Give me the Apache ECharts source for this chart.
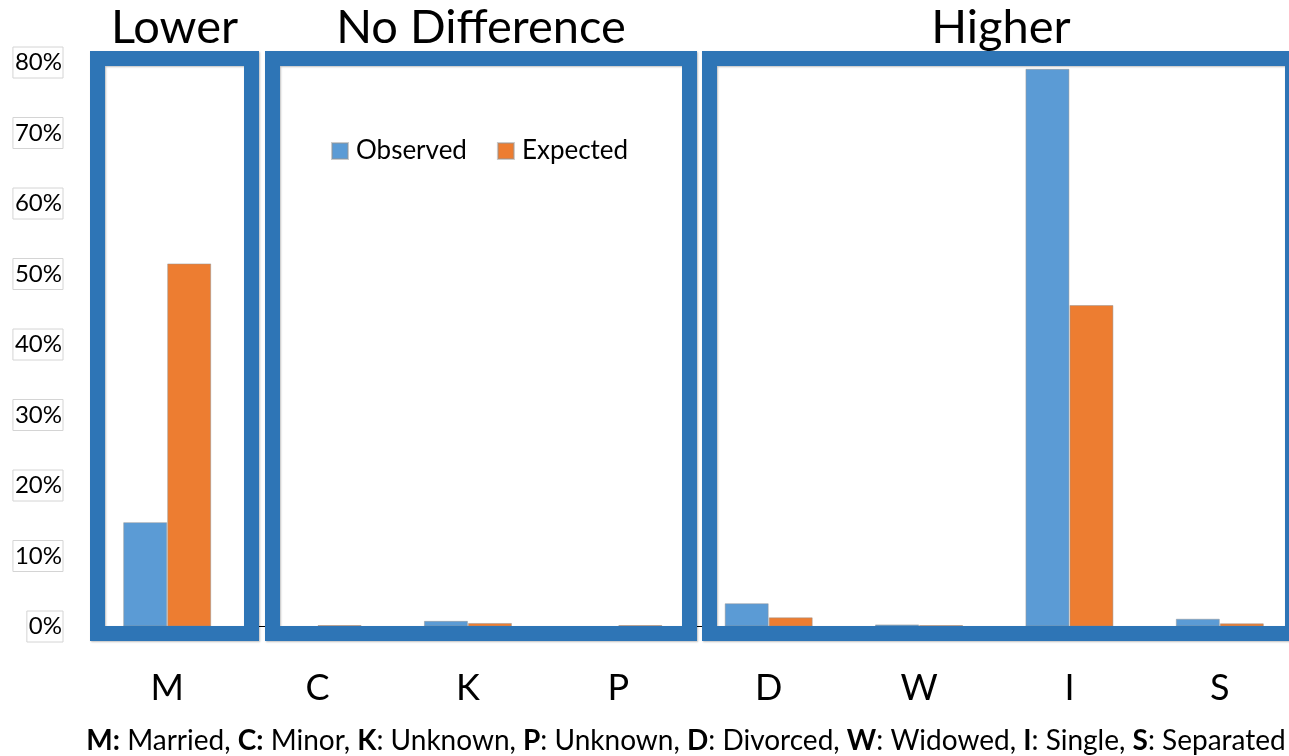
<!DOCTYPE html>
<html>
<head>
<meta charset="utf-8">
<script src="https://cdn.jsdelivr.net/npm/echarts@6/dist/echarts.min.js"></script>
<style>
  html, body { margin: 0; padding: 0; background: #fff; }
  #chart { width: 1289px; height: 756px; }
</style>
</head>
<body>
<div id="chart"></div>
<script>
// Marital status codes along the x axis
const categories = ['M', 'C', 'K', 'P', 'D', 'W', 'I', 'S'];
// Share of cases per status (fractions of 1)
const observed = [0.148, 0, 0.008, 0, 0.033, 0.003, 0.791, 0.011];
const expected = [0.515, 0.002, 0.005, 0.002, 0.013, 0.002, 0.456, 0.0045];
// Y axis tick labels
const yTicks = ['0%', '10%', '20%', '30%', '40%', '50%', '60%', '70%', '80%'];
// Group headings over the framed panels
const groupTitles = ['Lower', 'No Difference', 'Higher'];

const FONT = 'Lato, "Open Sans", sans-serif';
const FRAME = '#2e75b6';

const chart = echarts.init(document.getElementById('chart'), null, { renderer: 'canvas' });

// Frame rectangles (stroke centred on the path, 15px wide)
const frames = [
  { x: 97.5, y: 58.5, width: 154, height: 575 },
  { x: 272.5, y: 58.5, width: 417, height: 575 },
  { x: 709.5, y: 58.5, width: 583, height: 575 }
];

const graphics = [];
frames.forEach((f, i) => {
  graphics.push({
    type: 'rect',
    z: 50,
    silent: true,
    shape: { x: f.x, y: f.y, width: f.width, height: f.height },
    style: {
      fill: null,
      stroke: FRAME,
      lineWidth: 15,
      shadowColor: 'rgba(0,0,0,0.25)',
      shadowBlur: 2,
      shadowOffsetX: 1,
      shadowOffsetY: 1
    }
  });
  graphics.push({
    type: 'text',
    z: 50,
    x: f.x + f.width / 2,
    y: 28,
    style: {
      text: groupTitles[i],
      fill: '#000',
      font: '47px ' + FONT,
      textAlign: 'center',
      textVerticalAlign: 'middle'
    }
  });
});

// Footnote explaining the codes
graphics.push({
  type: 'text',
  z: 50,
  x: 686,
  y: 741,
  style: {
    text: '{b|M:} Married, {b|C:} Minor, {b|K}: Unknown, {b|P}: Unknown, {b|D}: Divorced, {b|W}: Widowed, {b|I}: Single, {b|S}: Separated',
    fill: '#000',
    fontSize: 28,
    fontFamily: FONT,
    textAlign: 'center',
    textVerticalAlign: 'middle',
    rich: {
      b: { fontWeight: 'bold', fontSize: 28, fontFamily: FONT, fill: '#000' }
    }
  }
});

chart.setOption({
  animation: false,
  backgroundColor: '#fff',
  textStyle: { fontFamily: FONT },
  grid: { left: 92, top: 62.5, width: 1203, height: 564, containLabel: false, outerBoundsMode: 'none' },
  legend: {
    left: 326,
    top: 133,
    itemWidth: 16,
    itemHeight: 16,
    itemGap: 30,
    icon: 'rect',
    textStyle: { fontSize: 26, color: '#000', fontFamily: FONT, padding: [0, 0, 0, 3] },
    data: ['Observed', 'Expected']
  },
  xAxis: {
    type: 'category',
    data: categories,
    axisTick: { show: false },
    axisLine: { show: true, lineStyle: { color: '#000', width: 1 } },
    axisLabel: { fontSize: 36, color: '#000', margin: 44, fontFamily: FONT }
  },
  yAxis: {
    type: 'value',
    min: 0,
    max: 0.8,
    interval: 0.1,
    splitLine: { show: false },
    axisLine: { show: false },
    axisTick: { show: false },
    axisLabel: {
      fontSize: 24,
      color: '#000',
      margin: 29,
      fontFamily: FONT,
      borderColor: '#d4d4d4',
      borderWidth: 1,
      padding: [4, 1, 3, 2],
      formatter: (v) => yTicks[Math.round(v * 10)]
    }
  },
  series: [
    {
      name: 'Observed',
      type: 'bar',
      data: observed,
      barWidth: 44,
      barGap: '0%',
      itemStyle: { color: '#5b9bd5', borderColor: 'rgba(150,150,150,0.5)', borderWidth: 1 }
    },
    {
      name: 'Expected',
      type: 'bar',
      data: expected,
      barWidth: 44,
      barGap: '0%',
      itemStyle: { color: '#ed7d31', borderColor: 'rgba(150,150,150,0.5)', borderWidth: 1 }
    }
  ],
  graphic: graphics
});
</script>
</body>
</html>
